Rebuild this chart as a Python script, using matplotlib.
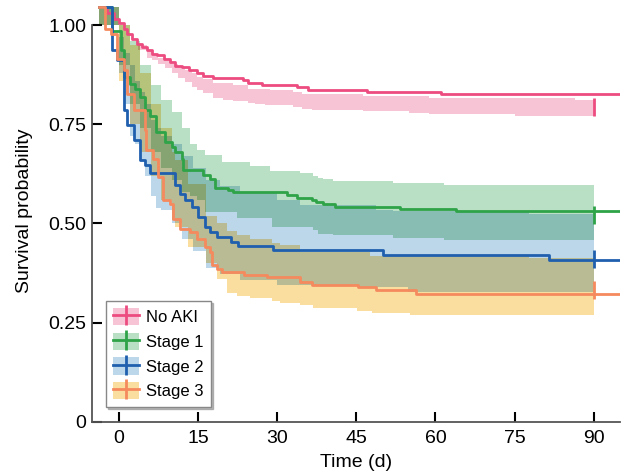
import matplotlib
matplotlib.use("Agg")
import matplotlib.pyplot as plt
import numpy as np
from itertools import combinations
from matplotlib.patches import Patch
from matplotlib.lines import Line2D
from matplotlib.colors import to_rgb

plt.rcParams['font.family'] = ['Liberation Sans', 'DejaVu Sans']

groups = ['No AKI', 'Stage 1', 'Stage 2', 'Stage 3']
line_colors = ['#EC4C80', '#2EA348', '#1F5FAE', '#F58A5E']
band_colors = ['#F7C4D6', '#B9E0C4', '#BCD7EA', '#F9DEA0']

# Kaplan-Meier steps (time in days, survival)
noaki_t = [-3.8, -2.3, -1.0, 0.0, 0.9, 1.5, 2.5, 3.4, 4.4, 5.3, 6.3, 7.2, 8.5, 9.7, 10.7, 11.9,
           13.2, 14.8, 16.0, 17.8, 23.5, 24.4, 27.1, 33.7, 35.8, 47.0, 61.0]
noaki_s = [1.045, 1.029, 1.016, 1.004, 0.991, 0.978, 0.966, 0.953, 0.945, 0.936, 0.928, 0.924, 0.915,
           0.907, 0.898, 0.894, 0.886, 0.878, 0.872, 0.866, 0.861, 0.855, 0.850, 0.843, 0.837, 0.831, 0.825]

s1_t = [-3.8, -1.3, 0.3, 1.0, 2.1, 3.1, 4.0, 5.0, 5.9, 7.1, 8.7, 10.0, 10.6, 11.9, 12.2, 16.0, 17.2,
        18.2, 20.7, 21.6, 31.8, 33.7, 36.5, 37.4, 38.7, 40.9, 53.2, 63.9]
s1_s = [1.045, 0.984, 0.938, 0.869, 0.852, 0.840, 0.819, 0.785, 0.770, 0.730, 0.705, 0.693, 0.680,
        0.663, 0.636, 0.621, 0.613, 0.590, 0.585, 0.579, 0.571, 0.564, 0.558, 0.554, 0.548, 0.542,
        0.537, 0.531]

s2_t = [-3.8, -1.4, -0.4, 0.9, 1.5, 2.8, 4.0, 4.9, 5.9, 10.6, 11.6, 12.6, 13.8, 15.0, 16.3, 17.2,
        18.5, 21.3, 22.6, 29.2, 50.0, 81.6]
s2_s = [1.045, 0.936, 0.911, 0.785, 0.749, 0.710, 0.660, 0.647, 0.628, 0.596, 0.575, 0.560, 0.542,
        0.516, 0.491, 0.479, 0.466, 0.453, 0.443, 0.432, 0.420, 0.408]

s3_t = [-3.8, -2.7, -1.6, -0.4, 0.9, 1.5, 2.8, 4.9, 5.2, 6.5, 7.4, 8.4, 9.7, 10.3, 11.6, 13.4, 14.7,
        16.3, 17.2, 17.6, 18.5, 19.5, 23.7, 28.1, 34.3, 36.5, 45.3, 48.8, 56.4]
s3_s = [1.045, 0.991, 0.978, 0.915, 0.886, 0.827, 0.785, 0.735, 0.684, 0.663, 0.617, 0.558, 0.550,
        0.512, 0.487, 0.479, 0.462, 0.441, 0.428, 0.395, 0.386, 0.378, 0.370, 0.365, 0.353, 0.344,
        0.339, 0.332, 0.322]

# confidence bands
noaki_ci_t = [3.7, 5.3, 6.3, 7.4, 8.7, 10.0, 11.2, 12.5, 13.8, 14.7, 15.9, 17.8, 19.7, 21.6, 24.4,
              25.8, 27.7, 28.6, 33.0, 34.7, 36.6, 46.2, 54.9, 58.7, 75.0, 86.4, 90.0]
noaki_hi = [.949, .936, .928, .918, .911, .903, .893, .886, .878, .869, .863, .854, .854, .848, .840,
            .840, .840, .836, .831, .825, .825, .821, .820, .816, .816, .810, .810]
noaki_lo = [.936, .918, .911, .903, .891, .878, .866, .856, .843, .836, .829, .817, .812, .809, .803,
            .800, .798, .798, .793, .789, .785, .783, .778, .775, .772, .772, .772]

s1_ci_t = [-3.8, 0.0, 2.0, 4.0, 6.0, 8.0, 10.0, 12.0, 13.4, 14.8, 16.3, 19.5, 22.3, 24.8, 28.6, 29.0,
           34.3, 36.7, 37.7, 38.6, 40.5, 51.9, 61.7, 90.0]
s1_hi = [1.045, 1.0, 0.96, 0.90, 0.85, 0.81, 0.78, 0.74, 0.70, 0.684, 0.672, 0.655, 0.655, 0.645,
         0.632, 0.632, 0.626, 0.619, 0.615, 0.611, 0.607, 0.603, 0.596, 0.596]
s1_lo = [1.0, 0.90, 0.80, 0.74, 0.68, 0.64, 0.61, 0.58, 0.57, 0.56, 0.529, 0.529, 0.513, 0.513,
         0.513, 0.491, 0.491, 0.483, 0.474, 0.474, 0.470, 0.463, 0.459, 0.459]

s2_ci_t = [-3.8, 0.0, 1.0, 2.0, 3.0, 4.0, 5.0, 6.0, 7.0, 8.0, 10.0, 12.0, 14.0, 16.5, 19.1, 22.9,
           29.9, 34.3, 45.1, 48.8, 51.9, 54.7, 77.8, 90.0]
s2_hi = [1.045, 0.97, 0.93, 0.90, 0.86, 0.83, 0.80, 0.76, 0.74, 0.72, 0.70, 0.67, 0.64, 0.61, 0.595,
         0.58, 0.56, 0.546, 0.546, 0.535, 0.531, 0.531, 0.525, 0.525]
s2_lo = [1.0, 0.88, 0.80, 0.72, 0.70, 0.66, 0.62, 0.57, 0.54, 0.533, 0.50, 0.46, 0.43, 0.387, 0.374,
         0.357, 0.344, 0.344, 0.340, 0.340, 0.340, 0.327, 0.327, 0.327]

s3_ci_t = [-3.8, 0.0, 2.0, 4.0, 6.0, 8.0, 10.0, 10.6, 13.0, 16.5, 18.5, 20.5, 22.3, 24.8, 29.0, 30.5,
           34.3, 36.7, 45.1, 47.5, 47.9, 55.1, 77.8, 90.0]
s3_hi = [1.045, 1.0, 0.95, 0.88, 0.80, 0.74, 0.68, 0.66, 0.60, 0.52, 0.50, 0.48, 0.47, 0.46, 0.45,
         0.445, 0.428, 0.428, 0.428, 0.417, 0.417, 0.417, 0.412, 0.412]
s3_lo = [1.0, 0.86, 0.75, 0.68, 0.62, 0.56, 0.51, 0.49, 0.44, 0.40, 0.36, 0.324, 0.318, 0.312, 0.306,
         0.299, 0.294, 0.286, 0.279, 0.279, 0.275, 0.269, 0.269, 0.269]

censor_t = 90
censor_s = [0.794, 0.522, 0.411, 0.332]

lines = [(noaki_t, noaki_s), (s1_t, s1_s), (s2_t, s2_s), (s3_t, s3_s)]
bands = [(noaki_ci_t, noaki_lo, noaki_hi), (s1_ci_t, s1_lo, s1_hi),
         (s2_ci_t, s2_lo, s2_hi), (s3_ci_t, s3_lo, s3_hi)]

x_end = 95


def step_eval(t, v, g):
    # value of a post-step function on each interval starting at g
    t = np.asarray(t)
    idx = np.searchsorted(t, g, side='right') - 1
    out = np.asarray(v, float)[np.clip(idx, 0, None)]
    out[(idx < 0) | (g >= t[-1])] = np.nan
    return out


def fill_runs(ax, g, lo, hi, color, z):
    ok = lo < hi
    n = len(g) - 1
    i = 0
    while i < n:
        if not ok[i]:
            i += 1
            continue
        j = i
        while j + 1 < n and ok[j + 1]:
            j += 1
        ax.fill_between(g[i:j + 2], np.r_[lo[i:j + 1], lo[j]], np.r_[hi[i:j + 1], hi[j]],
                        step='post', color=color, linewidth=0, zorder=z)
        i = j + 1


fig = plt.figure(figsize=(6.22, 4.75), dpi=100)
ax = fig.add_axes([0.148, 0.1116, 0.849, 0.8884])

# bands: overlapping areas get the product of the colours (multiply look)
grid = np.unique(np.concatenate([np.asarray(b[0]) for b in bands]))
starts = grid[:-1]
los = [step_eval(b[0], b[1], starts) for b in bands]
his = [step_eval(b[0], b[2], starts) for b in bands]
rgbs = [np.array(to_rgb(c)) for c in band_colors]
for k in range(1, len(bands) + 1):
    for combo in combinations(range(len(bands)), k):
        lo = np.max([los[i] for i in combo], axis=0)
        hi = np.min([his[i] for i in combo], axis=0)
        col = np.prod([rgbs[i] for i in combo], axis=0)
        fill_runs(ax, grid, lo, hi, col, 1 + k * 0.1)

for i, (t, s) in enumerate(lines):
    ax.step(t + [x_end], s + [s[-1]], where='post', color=line_colors[i], lw=2, zorder=3)
    ax.plot([censor_t], [censor_s[i]], marker='|', ms=13, mew=2, color=line_colors[i], zorder=3)

ax.set_xlim(-5.1, x_end)
ax.set_ylim(0, 1.063)
ax.set_xticks([0, 15, 30, 45, 60, 75, 90])
ax.set_yticks([0, 0.25, 0.5, 0.75, 1.0])
ax.set_yticklabels(['0', '0.25', '0.50', '0.75', '1.00'])
ax.tick_params(direction='in', length=7, width=1.5, labelsize=14, color='black')
ax.tick_params(axis='y', pad=4)
ax.tick_params(axis='x', pad=6)
for side in ['top', 'right']:
    ax.spines[side].set_visible(False)
for side in ['left', 'bottom']:
    ax.spines[side].set_color('#555555')
    ax.spines[side].set_linewidth(1.3)
ax.spines['left'].set_bounds(0, 1)
ax.set_xlabel('Time (d)', fontsize=14, labelpad=5)
ax.set_ylabel('Survival probability', fontsize=14, labelpad=11)

handles = []
for lc, bc in zip(line_colors, band_colors):
    handles.append((Patch(facecolor=bc, edgecolor='none'),
                    Line2D([], [], color=lc, lw=2, marker='|', ms=14, mew=2)))
leg = ax.legend(handles, groups, loc='lower left', bbox_to_anchor=(0.026, 0.036), borderaxespad=0,
                fontsize=12, fancybox=False, edgecolor='#888888', handlelength=1.56,
                handleheight=1.2, handletextpad=0.4, labelspacing=0.45, borderpad=0.45,
                framealpha=1, shadow={'ox': 1.5, 'oy': -1.5, 'color': '0.55', 'alpha': 0.6})
leg.get_frame().set_linewidth(1.0)
leg.set_zorder(5)

fig.savefig('out.png', dpi=100)
